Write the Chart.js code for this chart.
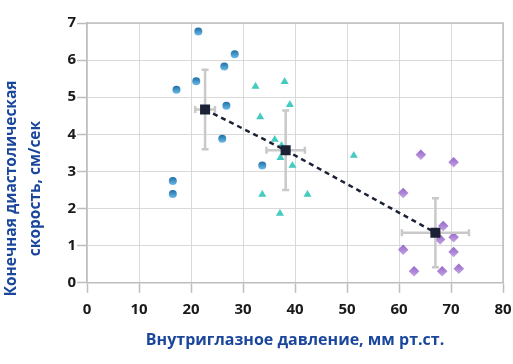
<!DOCTYPE html>
<html>
<head>
<meta charset="utf-8">
<script src="https://cdn.jsdelivr.net/npm/chart.js@4/dist/chart.umd.min.js"></script>
<style>
  html, body { margin: 0; padding: 0; background: #ffffff; }
  #wrap { width: 513px; height: 364px; }
</style>
</head>
<body>
<div id="wrap"><canvas id="c" width="513" height="364"></canvas></div>
<script>
// ---- Data ----
const g1X = [21.4, 28.4, 26.4, 21.0, 17.2, 26.8, 26.0, 33.7, 16.5, 16.5];
const g1Y = [6.77, 6.16, 5.83, 5.43, 5.20, 4.77, 3.88, 3.16, 2.74, 2.39];

const g2X = [32.4, 38.0, 39.0, 33.3, 36.1, 37.4, 37.2, 39.5, 51.3, 33.7, 42.4, 37.1];
const g2Y = [5.29, 5.42, 4.80, 4.47, 3.86, 3.70, 3.37, 3.16, 3.43, 2.38, 2.38, 1.87];

const g3X = [64.2, 70.5, 60.8, 68.5, 67.9, 70.5, 60.8, 70.5, 62.9, 68.3, 71.5];
const g3Y = [3.45, 3.25, 2.42, 1.53, 1.17, 1.23, 0.89, 0.83, 0.31, 0.31, 0.38];

const meanX = [22.7, 38.2, 67.0];
const meanY = [4.67, 3.57, 1.35];
const errX = [1.9, 3.7, 6.45];
const errY = [1.07, 1.07, 0.93];

const xTicks = [0, 10, 20, 30, 40, 50, 60, 70, 80];
const yTicks = [0, 1, 2, 3, 4, 5, 6, 7];

const xTitle = 'Внутриглазное давление, мм рт.ст.';
const yTitle = ['Конечная диастолическая', 'скорость, см/сек'];

// ---- helpers ----
const pts = (xs, ys) => xs.map((x, i) => ({ x: x, y: ys[i] }));

function gradFill(top, bottom, r) {
  return function (ctx) {
    if (ctx.type !== 'data' || !ctx.parsed) return top;
    const chart = ctx.chart;
    const ys = chart.scales.y;
    const py = ys.getPixelForValue(ctx.parsed.y);
    if (!isFinite(py)) return top;
    const g = chart.ctx.createLinearGradient(0, py - r, 0, py + r);
    g.addColorStop(0, top);
    g.addColorStop(1, bottom);
    return g;
  };
}

const titleColor = '#1a479c';
const axisGray = '#bdbdbd';

const framePlugin = {
  id: 'frame',
  beforeDatasetsDraw(chart) {
    const a = chart.chartArea, c = chart.ctx;
    c.save();
    c.strokeStyle = axisGray;
    c.lineWidth = 1.5;
    c.beginPath();
    c.moveTo(a.left, a.top);
    c.lineTo(a.right, a.top);
    c.lineTo(a.right, a.bottom);
    c.stroke();
    c.restore();
  }
};

const errPlugin = {
  id: 'errbars',
  beforeDatasetDraw(chart, args) {
    if (args.index !== 3) return;
    const xs = chart.scales.x, ys = chart.scales.y, c = chart.ctx;
    c.save();
    c.strokeStyle = '#c9c9c9';
    c.lineWidth = 2.5;
    const cap = 3.5;
    for (let i = 0; i < meanX.length; i++) {
      const px = xs.getPixelForValue(meanX[i]);
      const py = ys.getPixelForValue(meanY[i]);
      const x0 = xs.getPixelForValue(meanX[i] - errX[i]);
      const x1 = xs.getPixelForValue(meanX[i] + errX[i]);
      const y0 = ys.getPixelForValue(meanY[i] + errY[i]);
      const y1 = ys.getPixelForValue(meanY[i] - errY[i]);
      c.beginPath();
      c.moveTo(px, y0); c.lineTo(px, y1);
      c.moveTo(px - cap, y0); c.lineTo(px + cap, y0);
      c.moveTo(px - cap, y1); c.lineTo(px + cap, y1);
      c.moveTo(x0, py); c.lineTo(x1, py);
      c.moveTo(x0, py - cap); c.lineTo(x0, py + cap);
      c.moveTo(x1, py - cap); c.lineTo(x1, py + cap);
      c.stroke();
    }
    c.restore();
  }
};

new Chart(document.getElementById('c'), {
  type: 'scatter',
  data: {
    datasets: [
      {
        data: pts(g1X, g1Y),
        pointStyle: 'circle',
        pointRadius: 4,
        pointBackgroundColor: gradFill('#1f6ea8', '#6bbbe8', 4),
        pointBorderWidth: 0,
        order: 3
      },
      {
        data: pts(g2X, g2Y),
        pointStyle: 'triangle',
        pointRadius: 4.6,
        pointBackgroundColor: gradFill('#50d2c8', '#3cc4ba', 4.6),
        pointBorderWidth: 0,
        order: 3
      },
      {
        data: pts(g3X, g3Y),
        pointStyle: 'rectRot',
        pointRadius: 5.3,
        pointBackgroundColor: gradFill('#9466c8', '#c5a5e5', 5.3),
        pointBorderWidth: 0,
        order: 3
      },
      {
        type: 'line',
        data: pts(meanX, meanY),
        showLine: true,
        borderColor: '#1b2236',
        borderWidth: 2.5,
        borderDash: [5, 4],
        fill: false,
        tension: 0,
        pointStyle: 'rect',
        pointRadius: 7.1,
        pointBackgroundColor: '#1b2236',
        pointBorderWidth: 0,
        order: 0
      }
    ]
  },
  options: {
    responsive: false,
    animation: false,
    events: [],
    layout: { padding: { left: 0, top: 23, right: 10, bottom: 10 } },
    plugins: {
      legend: { display: false },
      tooltip: { enabled: false },
      title: {
        display: true,
        position: 'left',
        text: yTitle,
        color: titleColor,
        font: { family: 'Open Sans', size: 15.5, weight: 'bold', lineHeight: 1.55 },
        padding: { top: 0, bottom: 0 }
      }
    },
    scales: {
      x: {
        type: 'linear',
        min: 0, max: 80,
        afterBuildTicks: (s) => { s.ticks = xTicks.map(v => ({ value: v })); },
        afterFit: (s) => { s.paddingRight = 0; s.paddingLeft = 0; },
        grid: {
          color: '#d9d9d9',
          lineWidth: 1,
          borderDash: [2, 2],
          tickLength: 10,
          tickColor: axisGray,
          tickWidth: 1.5,
          tickBorderDash: []
        },
        border: { display: true, color: axisGray, width: 1.5 },
        ticks: {
          color: '#1a1a1a',
          padding: 8,
          font: { family: 'Open Sans', size: 15, weight: 'bold' },
          maxRotation: 0
        },
        title: {
          display: true,
          text: xTitle,
          color: titleColor,
          font: { family: 'Open Sans', size: 16, weight: 'bold' },
          padding: { top: 4, bottom: 4 }
        }
      },
      y: {
        type: 'linear',
        min: 0, max: 7,
        afterBuildTicks: (s) => { s.ticks = yTicks.map(v => ({ value: v })); },
        afterFit: (s) => { s.width = 87 - 48; s.paddingTop = 0; s.paddingBottom = 0; },
        grid: {
          color: '#d9d9d9',
          lineWidth: 1,
          borderDash: [2, 2],
          tickLength: 10,
          tickColor: axisGray,
          tickWidth: 1.5,
          tickBorderDash: []
        },
        border: { display: true, color: axisGray, width: 1.5 },
        ticks: {
          color: '#1a1a1a',
          padding: 1,
          font: { family: 'Open Sans', size: 15, weight: 'bold' }
        }
      }
    }
  },
  plugins: [framePlugin, errPlugin]
});
</script>
</body>
</html>
